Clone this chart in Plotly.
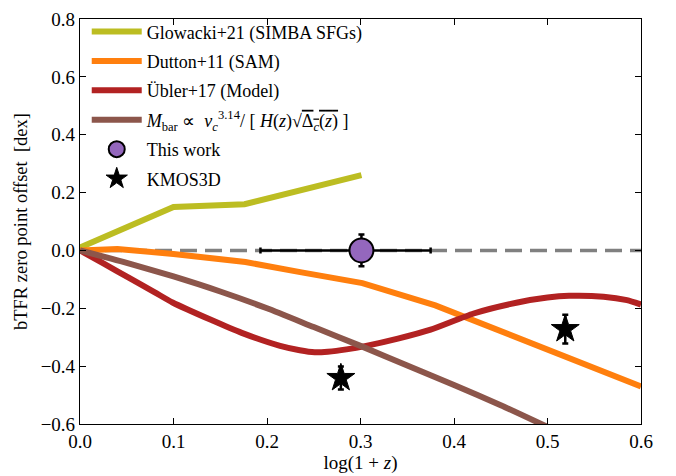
import plotly.graph_objects as go

# Data
glow_x = [0.0, 0.1, 0.176, 0.25, 0.301]
glow_y = [0.01, 0.15, 0.16, 0.22, 0.26]

dut_x = [0.0, 0.04, 0.1, 0.177, 0.237, 0.302, 0.38, 0.42, 0.514, 0.6]
dut_y = [0.0, 0.005, -0.012, -0.04, -0.076, -0.113, -0.19, -0.24, -0.358, -0.47]

ubl_x = [0.0, 0.025, 0.053, 0.08, 0.099, 0.14, 0.173, 0.214, 0.235, 0.251, 0.265, 0.285, 0.306, 0.34,
         0.375, 0.421, 0.468, 0.5, 0.523, 0.56, 0.585, 0.6]
ubl_y = [0.0, -0.045, -0.096, -0.145, -0.18, -0.24, -0.285, -0.33, -0.345, -0.352, -0.35, -0.342, -0.33, -0.305,
         -0.274, -0.218, -0.18, -0.163, -0.157, -0.16, -0.172, -0.187]

hz_x = [0.0, 0.05, 0.1, 0.15, 0.2, 0.25, 0.3, 0.35, 0.4, 0.45, 0.5]
hz_y = [0.0, -0.043, -0.09, -0.142, -0.2, -0.265, -0.33, -0.398, -0.465, -0.535, -0.61]

zero_x = [0.0, 0.6]
zero_y = [0.0, 0.0]

tw_x = [0.301]
tw_y = [0.0]
tw_xerr_minus = [0.108]
tw_xerr_plus = [0.074]
tw_yerr = [0.055]

km_x = [0.279, 0.519]
km_y = [-0.441, -0.272]
km_yerr = [0.04, 0.05]

FONT = "Liberation Serif"

fig = go.Figure()

fig.add_trace(go.Scatter(x=zero_x, y=zero_y, mode="lines", showlegend=False,
                         line=dict(color="#808080", width=3.5, dash="17px,8px")))
fig.add_trace(go.Scatter(x=glow_x, y=glow_y, mode="lines", name="Glowacki+21 (SIMBA SFGs)",
                         legendgroup="g1",
                         line=dict(color="#bcbd22", width=6)))
fig.add_trace(go.Scatter(x=dut_x, y=dut_y, mode="lines", name="Dutton+11 (SAM)",
                         legendgroup="g2",
                         line=dict(color="#ff7f0e", width=6)))
fig.add_trace(go.Scatter(x=ubl_x, y=ubl_y, mode="lines", name="Übler+17 (Model)",
                         legendgroup="g3",
                         line=dict(color="#b22222", width=6, shape="spline", smoothing=0.6)))
fig.add_trace(go.Scatter(x=hz_x, y=hz_y, mode="lines", legendgroup="g4",
                         name="<i>M</i><sub>bar</sub> ∝  <i>v</i><sub><i>c</i></sub><sup>3.14</sup>/ [ <i>H</i>(<i>z</i>)√<span style='text-decoration:overline'>Δ<sub><i>c</i></sub>(<i>z</i>)</span> ]",
                         line=dict(color="#8c564b", width=6, shape="spline", smoothing=0.6)))
fig.add_trace(go.Scatter(x=tw_x, y=tw_y, mode="markers", name="This work", legendgroup="g5",
                         marker=dict(symbol="circle", size=24, color="#9467bd",
                                     line=dict(color="black", width=2)),
                         error_x=dict(type="data", symmetric=False, array=tw_xerr_plus,
                                      arrayminus=tw_xerr_minus, color="black", thickness=2.5, width=3),
                         error_y=dict(type="data", array=tw_yerr, color="black", thickness=2.5, width=3)))
fig.add_trace(go.Scatter(x=km_x, y=km_y, mode="markers", name="KMOS3D", legendgroup="g6",
                         marker=dict(symbol="star", size=21, color="black",
                                     line=dict(color="black", width=1)),
                         error_y=dict(type="data", array=km_yerr, color="black", thickness=2.5, width=3)))

axis_common = dict(showline=True, linecolor="black", linewidth=1.2, mirror="allticks",
                   ticks="inside", ticklen=6, tickwidth=1.2, tickcolor="black",
                   showgrid=False, zeroline=False,
                   tickfont=dict(family=FONT, size=19, color="black"))

fig.update_layout(
    width=676, height=476,
    margin=dict(l=80, r=35, t=9, b=49),
    paper_bgcolor="white", plot_bgcolor="white",
    font=dict(family=FONT, size=18, color="black"),
    xaxis=dict(range=[0, 0.6], dtick=0.1, tick0=0, tickformat=".1f",
               title=dict(text="log(1 + <i>z</i>)", font=dict(family=FONT, size=19), standoff=2),
               **axis_common),
    yaxis=dict(range=[-0.6, 0.8], dtick=0.2, tick0=0, tickformat=".1f",
               title=dict(text="bTFR zero point offset  [dex]", font=dict(family=FONT, size=18.5), standoff=8),
               **axis_common),
    legend=dict(x=0.012, y=1.014, xanchor="left", yanchor="top", bgcolor="rgba(0,0,0,0)",
                font=dict(family=FONT, size=18), tracegroupgap=3, itemwidth=50),
    showlegend=True,
)

fig.write_html("out.html")
